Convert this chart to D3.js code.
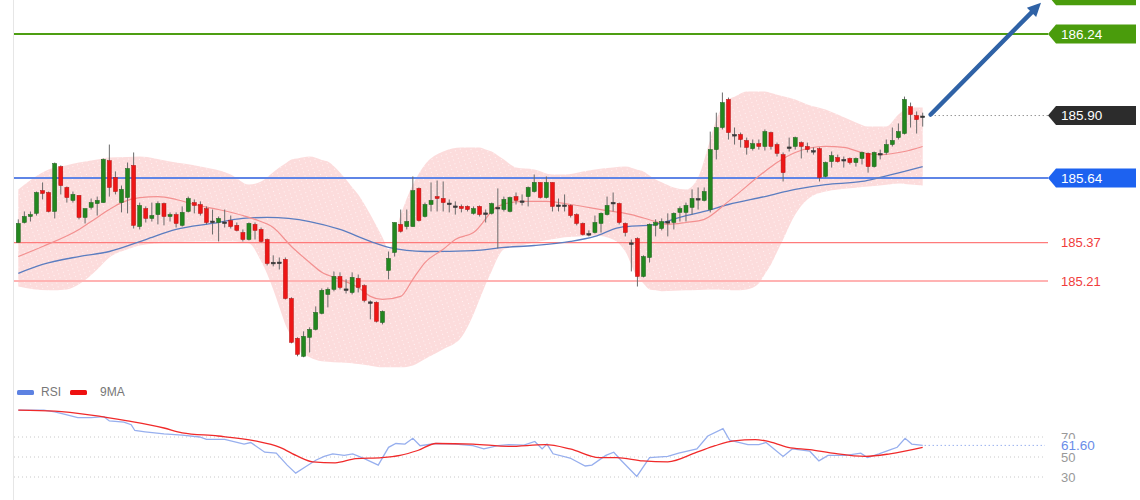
<!DOCTYPE html>
<html>
<head>
<meta charset="utf-8">
<script src="https://cdn.jsdelivr.net/npm/d3@7/dist/d3.min.js"></script>
<style>
  html, body { margin: 0; padding: 0; background: #fff; }
  svg { display: block; font-family: "Liberation Sans", Arial, sans-serif; }
</style>
</head>
<body>
<svg id="chart" width="1140" height="500"></svg>
<script>
'use strict';

// candles (price units)
var opens = [185.371,185.454,185.479,185.492,185.587,185.579,185.500,185.687,185.600,185.546,
  185.567,185.475,185.517,185.533,185.537,185.712,185.642,185.537,185.558,185.692,
  185.437,185.512,185.471,185.487,185.533,185.479,185.487,185.442,185.500,185.537,
  185.529,185.512,185.460,185.454,185.456,185.462,185.442,185.412,185.383,185.446,
  185.425,185.383,185.288,185.289,185.300,185.137,184.971,184.896,184.975,185.008,
  185.075,185.154,185.175,185.229,185.177,185.162,185.221,185.191,185.123,185.121,
  185.037,185.254,185.329,185.446,185.437,185.437,185.596,185.479,185.529,185.562,
  185.554,185.535,185.523,185.521,185.521,185.492,185.521,185.494,185.492,185.517,
  185.508,185.500,185.562,185.544,185.562,185.583,185.621,185.558,185.621,185.527,
  185.527,185.525,185.487,185.450,185.408,185.412,185.450,185.487,185.538,185.533,
  185.450,185.369,185.387,185.229,185.308,185.442,185.429,185.458,185.454,185.496,
  185.496,185.517,185.554,185.546,185.508,185.758,185.850,185.967,185.821,185.821,
  185.796,185.762,185.783,185.771,185.829,185.779,185.737,185.769,185.771,185.787,
  185.771,185.754,185.762,185.646,185.708,185.725,185.717,185.721,185.704,185.721,
  185.742,185.687,185.742,185.746,185.779,185.808,185.825,185.937,185.900,185.898];
var highs = [185.467,185.500,185.500,185.583,185.621,185.583,185.704,185.692,185.604,185.583,
  185.567,185.512,185.554,185.562,185.721,185.779,185.667,185.608,185.704,185.746,
  185.537,185.521,185.537,185.542,185.537,185.496,185.496,185.521,185.562,185.550,
  185.542,185.521,185.508,185.479,185.508,185.483,185.454,185.425,185.454,185.454,
  185.433,185.387,185.317,185.308,185.308,185.142,184.975,185.000,185.017,185.104,
  185.179,185.183,185.250,185.246,185.217,185.246,185.237,185.196,185.129,185.125,
  185.087,185.333,185.454,185.508,185.508,185.646,185.600,185.537,185.621,185.629,
  185.625,185.550,185.542,185.529,185.525,185.521,185.525,185.508,185.537,185.596,
  185.562,185.562,185.579,185.571,185.604,185.654,185.621,185.646,185.621,185.554,
  185.571,185.529,185.492,185.454,185.421,185.483,185.496,185.562,185.579,185.537,
  185.454,185.383,185.392,185.317,185.450,185.467,185.471,185.492,185.496,185.521,
  185.537,185.592,185.600,185.600,185.833,185.912,185.996,185.975,185.850,185.829,
  185.808,185.800,185.800,185.842,185.833,185.787,185.746,185.808,185.812,185.792,
  185.787,185.767,185.767,185.708,185.750,185.737,185.729,185.725,185.725,185.750,
  185.746,185.750,185.758,185.800,185.850,185.867,185.979,185.954,185.917,185.912];
var lows = [185.371,185.450,185.458,185.483,185.550,185.496,185.471,185.571,185.537,185.537,
  185.467,185.450,185.508,185.483,185.537,185.562,185.571,185.496,185.492,185.429,
  185.425,185.454,185.458,185.446,185.442,185.458,185.433,185.437,185.496,185.492,
  185.483,185.446,185.404,185.375,185.433,185.429,185.417,185.375,185.379,185.383,
  185.371,185.275,185.271,185.258,185.133,184.950,184.896,184.892,184.912,185.004,
  185.071,185.100,185.167,185.175,185.158,185.154,185.162,185.121,185.050,185.037,
  185.029,185.217,185.312,185.412,185.425,185.437,185.458,185.475,185.500,185.500,
  185.500,185.496,185.487,185.496,185.500,185.487,185.479,185.454,185.487,185.346,
  185.500,185.496,185.529,185.525,185.521,185.579,185.554,185.554,185.500,185.500,
  185.500,185.475,185.442,185.400,185.396,185.408,185.412,185.483,185.500,185.446,
  185.396,185.250,185.187,185.225,185.287,185.396,185.421,185.396,185.425,185.458,
  185.458,185.487,185.508,185.542,185.496,185.717,185.842,185.800,185.779,185.767,
  185.737,185.754,185.758,185.754,185.758,185.729,185.625,185.750,185.758,185.721,
  185.746,185.737,185.625,185.642,185.683,185.704,185.683,185.696,185.687,185.696,
  185.662,185.683,185.717,185.737,185.771,185.800,185.821,185.850,185.825,185.854];
var closes = [185.450,185.479,185.487,185.579,185.575,185.500,185.700,185.608,185.558,185.571,
  185.475,185.512,185.537,185.546,185.717,185.600,185.583,185.592,185.679,185.442,
  185.525,185.471,185.483,185.533,185.479,185.487,185.450,185.496,185.554,185.525,
  185.492,185.454,185.460,185.471,185.456,185.437,185.421,185.383,185.450,185.421,
  185.375,185.283,185.288,185.289,185.137,184.954,184.904,184.979,185.008,185.079,
  185.171,185.175,185.229,185.183,185.177,185.225,185.183,185.129,185.123,185.042,
  185.083,185.304,185.454,185.417,185.458,185.587,185.462,185.529,185.546,185.554,
  185.537,185.535,185.523,185.512,185.508,185.512,185.487,185.494,185.533,185.517,
  185.550,185.558,185.546,185.544,185.600,185.621,185.558,185.621,185.521,185.527,
  185.527,185.483,185.450,185.404,185.408,185.454,185.492,185.525,185.538,185.454,
  185.412,185.369,185.229,185.312,185.446,185.454,185.458,185.458,185.492,185.512,
  185.525,185.554,185.554,185.583,185.758,185.850,185.954,185.829,185.821,185.800,
  185.767,185.783,185.771,185.833,185.771,185.742,185.662,185.769,185.808,185.771,
  185.758,185.754,185.642,185.704,185.733,185.708,185.717,185.704,185.721,185.746,
  185.687,185.746,185.742,185.779,185.796,185.833,185.967,185.904,185.883,185.898];

// envelope band and moving averages (candle index -> price)
var bandIdx = [0,5,10,15,20,25,30,35,38,40,43,45,48,51,53,56,58,60,61,63,65,67,70,73,76,78,80,
  82,85,88,90,93,95,98,100,103,105,108,110,112,114,115,117,120,123,125,128,130,133,135,138,140,143,145,147,149];
var bandUpper = [185.592,185.675,185.704,185.725,185.729,185.708,185.687,185.654,185.612,185.625,185.683,
  185.717,185.729,185.708,185.662,185.571,185.487,185.392,185.342,185.487,185.612,185.696,185.750,185.767,
  185.767,185.750,185.717,185.683,185.675,185.654,185.654,185.667,185.675,185.683,185.687,185.667,185.633,
  185.600,185.592,185.642,185.800,185.883,185.967,186.000,186.000,185.987,185.967,185.946,185.925,185.904,
  185.871,185.854,185.854,185.904,185.933,185.933];
var lowIdx = [0,5,8,10,13,15,18,20,25,30,35,38,40,42,44,46,48,50,55,60,63,65,70,73,75,77,79,80,85,90,95,
  98,100,102,104,106,110,115,118,120,122,124,126,128,130,133,135,140,145,149];
var bandLower = [185.187,185.171,185.175,185.196,185.258,185.308,185.342,185.358,185.371,185.375,185.375,
  185.367,185.292,185.175,185.029,184.925,184.892,184.875,184.867,184.850,184.850,184.858,184.925,184.975,
  185.071,185.196,185.308,185.342,185.371,185.392,185.400,185.383,185.333,185.225,185.175,185.167,185.171,
  185.175,185.171,185.175,185.200,185.279,185.383,185.487,185.550,185.583,185.592,185.604,185.617,185.608];
var maFastIdx = [0,4,10,12,15,17,20,23,26,29,33,37,39,42,45,48,50,53,56,58,60,63,65,67,70,72,75,79,83,87,
  91,96,101,105,107,110,113,117,123,125,128,133,136,139,142,146,149];
var maFast = [185.312,185.354,185.425,185.458,185.508,185.537,185.558,185.562,185.550,185.529,185.508,
  185.483,185.467,185.433,185.354,185.287,185.246,185.217,185.183,185.146,185.133,185.146,185.217,185.287,
  185.342,185.383,185.412,185.521,185.542,185.542,185.529,185.508,185.487,185.458,185.446,185.454,185.467,
  185.542,185.667,185.704,185.746,185.771,185.767,185.746,185.737,185.750,185.771];
var maSlowIdx = [0,4,10,15,21,26,32,37,41,48,53,58,61,67,75,80,85,91,95,99,105,110,113,117,123,128,133,
  139,142,146,149];
var maSlow = [185.242,185.279,185.312,185.333,185.383,185.425,185.450,185.471,185.475,185.458,185.425,
  185.375,185.350,185.333,185.337,185.350,185.358,185.375,185.396,185.433,185.446,185.483,185.500,185.529,
  185.562,185.592,185.612,185.625,185.642,185.667,185.687];

// key levels on the right
var supportLevels = [185.37, 185.21];
var resistLevels = [186.40, 186.24];
var pivotLevel = 185.64;
var lastPrice = 185.90;

// RSI panel
var rsiIdx = [0,4.2,6,7.7,9.8,12,14.1,15,17.4,18.6,19.2,20.9,24,27,29.9,31,34,37.2,38.3,40.6,42.5,44.3,
  45.7,47.2,49,50.4,51.8,53.7,55.1,57,59.3,61,62.2,63.7,65,66.2,68.8,72,74.9,76.7,79,80.8,83.3,85.1,86.3,
  87.1,88.1,90.9,93.4,94.5,96.8,98.1,99.3,101.9,104,107,108.8,111.8,113.6,116.1,117.2,120.2,122,123.2,126,
  127.5,130.4,131.9,133.4,136.4,138.8,139.9,141.8,143.6,144.8,146.1,147.2,149];
var rsiVal = [96.8,96.8,95.2,92.6,89.4,89.4,90.3,86.1,84.8,82.3,76.5,75.2,73.2,71.9,70,67.7,67.7,62.9,64.5,
  54.8,53.9,41.9,33.9,39.7,46.8,50.6,53.2,51.6,53.2,48.4,41.9,59.7,63.5,62.9,68.7,61.3,63.5,62.9,61.3,58.1,
  61.3,62.3,61.9,65.5,58.1,62.9,53.2,49,41,41.9,51.6,54.8,46.8,30.6,49.4,50.6,53.9,58.1,71,78.4,66.8,62.3,
  62.3,64.5,50.6,58.1,55.8,46.1,51.6,51.6,53.9,49.4,53.2,57.1,59.7,68.7,62.9,61.6];
var rsiMaIdx = [0,6,12,18,24,27,32.9,39,43.1,46.1,48.5,52.2,55.6,59.9,62.9,65.8,68.8,74.9,80.8,86.8,90.9,
  95.7,98.6,102.9,107,111.8,114.8,117.9,121.4,123.2,126.8,130.4,134.1,139.5,143.6,149];
var rsiMa = [96.8,95.8,91.9,86.1,79,74.2,71,66.1,59.7,50.6,45.2,44.2,48.4,49.4,51.6,56.5,63.5,62.9,60.6,
  62.3,58.1,49.4,49.4,46.1,45.2,54.8,61.3,66.1,67.4,66.1,59.7,57.4,53.9,50.6,53.2,59.7];
var rsiLevels = [70, 50, 30];
var rsiLast = 61.60;

var svg = d3.select('#chart');
var x = d3.scaleLinear().domain([0, 149]).range([18.3, 922.7]);
var y = d3.scaleLinear().domain([185.21, 186.24]).range([281, 34]);
var yr = d3.scaleLinear().domain([30, 70]).range([477, 437]);
var lineRight = 1048, labelX = 1061;

/**
 * pink envelope with the light dotted texture
 */
function drawBand() {
  var defs = svg.append('defs');
  var pat = defs.append('pattern').attr('id', 'bandDots')
    .attr('width', 5).attr('height', 4).attr('patternUnits', 'userSpaceOnUse')
    .attr('patternTransform', 'rotate(-20)');
  pat.append('rect').attr('width', 5).attr('height', 4).attr('fill', '#fcdcdc');
  pat.append('rect').attr('x', 1).attr('y', 1).attr('width', 1).attr('height', 1).attr('fill', '#fff3f3');

  var up = d3.scaleLinear().domain(bandIdx).range(bandUpper);
  var lo = d3.scaleLinear().domain(lowIdx).range(bandLower);
  // both edges are sampled on the union of their read positions
  var idx = Array.from(new Set(bandIdx.concat(lowIdx))).sort(d3.ascending);
  var area = d3.area()
    .x(function (d) { return x(d); })
    .y0(function (d) { return y(lo(d)); })
    .y1(function (d) { return y(up(d)); })
    .curve(d3.curveMonotoneX);
  svg.append('path').datum(idx).attr('d', area).attr('fill', 'url(#bandDots)');
}

function drawLevels() {
  svg.append('line').attr('x1', 13.5).attr('x2', 13.5).attr('y1', 0).attr('y2', 500)
    .attr('stroke', '#e6e6e6');

  supportLevels.forEach(function (v, i) {
    svg.append('line').attr('x1', 14).attr('x2', lineRight)
      .attr('y1', y(v)).attr('y2', y(v))
      .attr('stroke', i === 0 ? '#ff7b7b' : '#ffb3b3').attr('stroke-width', i === 0 ? 1.2 : 2.2);
    svg.append('text').attr('x', labelX).attr('y', y(v)).attr('dy', '0.35em')
      .attr('font-size', 13).attr('fill', '#f03c3c').text(v.toFixed(2));
  });

  svg.append('line').attr('x1', 14).attr('x2', lineRight)
    .attr('y1', y(pivotLevel)).attr('y2', y(pivotLevel))
    .attr('stroke', '#5f85e6').attr('stroke-width', 2);

  resistLevels.forEach(function (v) {
    svg.append('line').attr('x1', 14).attr('x2', lineRight)
      .attr('y1', y(v)).attr('y2', y(v))
      .attr('stroke', '#4d9e12').attr('stroke-width', 2);
  });
}

function drawMAs() {
  var fast = d3.line().x(function (d) { return x(d[0]); }).y(function (d) { return y(d[1]); })
    .curve(d3.curveMonotoneX);
  svg.append('path').datum(d3.zip(maSlowIdx, maSlow)).attr('d', fast)
    .attr('fill', 'none').attr('stroke', '#5b7dc0').attr('stroke-width', 1.3);
  svg.append('path').datum(d3.zip(maFastIdx, maFast)).attr('d', fast)
    .attr('fill', 'none').attr('stroke', '#f39090').attr('stroke-width', 1.2);
}

function drawCandles() {
  var data = d3.range(opens.length).map(function (i) {
    return {i: i, o: opens[i], h: highs[i], l: lows[i], c: closes[i]};
  });
  var g = svg.append('g');
  var c = g.selectAll('g').data(data).enter().append('g');
  c.append('line')
    .attr('x1', function (d) { return x(d.i); }).attr('x2', function (d) { return x(d.i); })
    .attr('y1', function (d) { return y(d.h); }).attr('y2', function (d) { return y(d.l); })
    .attr('stroke', '#6b6b6b').attr('stroke-width', 1);
  c.append('rect')
    .attr('x', function (d) { return x(d.i) - 2; })
    .attr('width', 4)
    .attr('y', function (d) { return y(Math.max(d.o, d.c)); })
    .attr('height', function (d) { return Math.max(1.6, Math.abs(y(d.o) - y(d.c))); })
    .attr('fill', function (d) { return d.c > d.o ? '#23871f' : d.c < d.o ? '#ee1616' : '#3a3a3a'; })
    .attr('stroke', function (d) { return d.c > d.o ? '#1b5e1b' : d.c < d.o ? '#b01010' : '#333'; })
    .attr('stroke-width', 0.5);
}

function drawTags() {
  // label box with pointed left side; text only when the box is on screen
  function tag(v, fill) {
    var yy = y(v);
    var path = d3.path();
    path.moveTo(lineRight, yy);
    path.lineTo(lineRight + 8, yy - 9.5);
    path.lineTo(1136, yy - 9.5);
    path.lineTo(1136, yy + 9.5);
    path.lineTo(lineRight + 8, yy + 9.5);
    path.closePath();
    svg.append('path').attr('d', path.toString()).attr('fill', fill);
    if (yy - 9.5 >= 0) {
      svg.append('text').attr('x', labelX).attr('y', yy).attr('dy', '0.36em')
        .attr('font-size', 13.5).attr('fill', '#fff').text(v.toFixed(2));
    }
  }
  resistLevels.forEach(function (v) { tag(v, '#4a9c0c'); });
  tag(pivotLevel, '#1d62f0');

  svg.append('line').attr('x1', x(149) + 8).attr('x2', lineRight)
    .attr('y1', y(lastPrice)).attr('y2', y(lastPrice))
    .attr('stroke', '#666').attr('stroke-dasharray', '1,3');
  tag(lastPrice, '#2c2c2c');

  // projected move
  var x0 = x(149) + 8, y0 = y(lastPrice) - 1, x1 = 1041, y1 = y(186.37);
  var ang = Math.atan2(y1 - y0, x1 - x0);
  var head = 15;
  svg.append('line').attr('x1', x0).attr('y1', y0)
    .attr('x2', x1 - Math.cos(ang) * head * 0.7).attr('y2', y1 - Math.sin(ang) * head * 0.7)
    .attr('stroke', '#2f62a6').attr('stroke-width', 4.5).attr('stroke-linecap', 'round');
  var hp = d3.path();
  hp.moveTo(x1, y1);
  hp.lineTo(x1 - head * Math.cos(ang - 0.45), y1 - head * Math.sin(ang - 0.45));
  hp.lineTo(x1 - head * Math.cos(ang + 0.45), y1 - head * Math.sin(ang + 0.45));
  hp.closePath();
  svg.append('path').attr('d', hp.toString()).attr('fill', '#2f62a6');
}

function drawRSI() {
  var leg = svg.append('g');
  leg.append('rect').attr('x', 17).attr('y', 390).attr('width', 17).attr('height', 5).attr('rx', 1.5)
    .attr('fill', '#5d82e2');
  leg.append('text').attr('x', 41).attr('y', 396).attr('font-size', 12).attr('fill', '#777').text('RSI');
  leg.append('rect').attr('x', 70).attr('y', 390).attr('width', 17).attr('height', 5).attr('rx', 1.5)
    .attr('fill', '#ee1111');
  leg.append('text').attr('x', 100).attr('y', 396).attr('font-size', 12).attr('fill', '#777').text('9MA');

  rsiLevels.forEach(function (v) {
    svg.append('line').attr('x1', 14).attr('x2', 1045).attr('y1', yr(v)).attr('y2', yr(v))
      .attr('stroke', '#c8c8c8').attr('stroke-dasharray', '1,3');
    svg.append('text').attr('x', labelX).attr('y', yr(v)).attr('dy', '0.35em')
      .attr('font-size', 13).attr('fill', '#999').text(v);
  });

  var ln = d3.line().x(function (d) { return x(d[0]); }).y(function (d) { return yr(d[1]); });
  svg.append('path').datum(d3.zip(rsiIdx, rsiVal)).attr('d', ln)
    .attr('fill', 'none').attr('stroke', '#97afee').attr('stroke-width', 1.3);
  svg.append('path').datum(d3.zip(rsiMaIdx, rsiMa)).attr('d', ln.curve(d3.curveMonotoneX))
    .attr('fill', 'none').attr('stroke', '#f02a2a').attr('stroke-width', 1.3);

  svg.append('line').attr('x1', x(149) + 2).attr('x2', 1045)
    .attr('y1', yr(rsiLast)).attr('y2', yr(rsiLast))
    .attr('stroke', '#6b8de6').attr('stroke-dasharray', '1,3');
  // the current value sits on a white patch over the 70/50 labels, as in the source
  svg.append('rect').attr('x', labelX - 2).attr('y', yr(rsiLast) - 6.5).attr('width', 42).attr('height', 13)
    .attr('fill', '#fff');
  svg.append('text').attr('x', labelX).attr('y', yr(rsiLast)).attr('dy', '0.35em')
    .attr('font-size', 13.5).attr('fill', '#6a8de8').text(rsiLast.toFixed(2));
}

drawBand();
drawLevels();
drawMAs();
drawCandles();
drawTags();
drawRSI();
</script>
</body>
</html>
